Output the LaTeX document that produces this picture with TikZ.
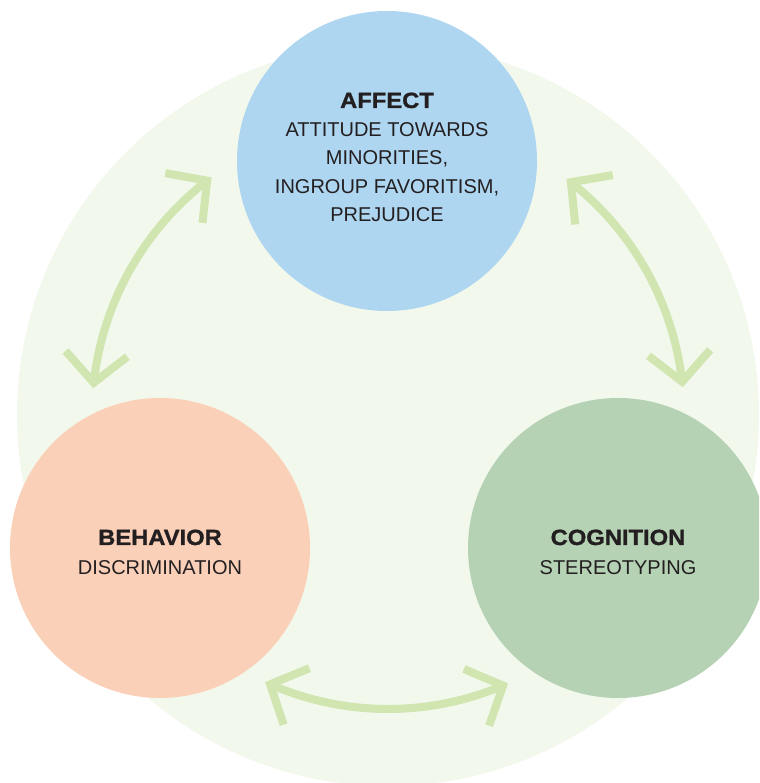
\documentclass[tikz,border=0pt]{standalone}
\usepackage{fontspec}
\setmainfont{Liberation Sans}
\newfontfamily\headfont[FakeStretch=1.08,FakeBold=1.2]{Liberation Sans Bold}
\usetikzlibrary{arrows.meta,bending,calc}
\definecolor{bgc}{HTML}{F2F8EC}
\definecolor{affc}{HTML}{AED6F1}
\definecolor{behc}{HTML}{FAD0B8}
\definecolor{cogc}{HTML}{B5D2B4}
\definecolor{arrc}{HTML}{D1E5B0}
\definecolor{txtc}{HTML}{231F20}
\tikzset{
  bubble/.style={circle,minimum size=300pt,inner sep=0pt,draw=none},
  headtxt/.style={anchor=base,inner sep=0pt,text=txtc,font=\headfont\fontsize{22}{26}\selectfont},
  bodytxt/.style={anchor=base,inner sep=0pt,text=txtc,font=\fontsize{20}{24}\selectfont},
  link/.style={draw=arrc,line width=8pt,
    {Straight Barb[length=29pt,width=62pt,line width=8pt,flex]}-{Straight Barb[length=29pt,width=62pt,line width=8pt,flex]}}
}
\begin{document}
\begin{tikzpicture}[x=1pt,y=1pt]
\useasboundingbox (0,0) rectangle (759,783);
\clip (0,0) rectangle (759,783);
\coordinate (ctr) at (388,368);
\fill[bgc] (ctr) circle (371);
\node[bubble,fill=affc] (affect) at (387,622) {};
\node[bubble,fill=behc] (behavior) at (160,235) {};
\node[bubble,fill=cogc] (cognition) at (618,235) {};
% texts
\node[headtxt] (affT) at (387,675) {AFFECT};
\node[bodytxt] (aff1) at (387,646) {ATTITUDE TOWARDS};
\node[bodytxt] (aff2) at (387,618) {MINORITIES,};
\node[bodytxt] (aff3) at (387,589) {INGROUP FAVORITISM,};
\node[bodytxt] (aff4) at (387,561) {PREJUDICE};
\node[headtxt] (behT) at (160,238) {BEHAVIOR};
\node[bodytxt] (beh1) at (160,208) {DISCRIMINATION};
\node[headtxt] (cogT) at (618,238) {COGNITION};
\node[bodytxt] (cog1) at (618,208) {STEREOTYPING};
% connectors
\coordinate (la) at ($(ctr)+(126.6:296)$);
\coordinate (lb) at ($(ctr)+(174.8:296)$);
\coordinate (ra) at ($(ctr)+(52.9:296)$);
\coordinate (rb) at ($(ctr)+(5.4:296)$);
\coordinate (ba) at ($(ctr)+(245.3:294)$);
\coordinate (bb) at ($(ctr)+(294.1:294)$);
\draw[link] (la) arc[start angle=126.6,end angle=174.8,radius=296];
\draw[link] (ra) arc[start angle=52.9,end angle=5.4,radius=296];
\draw[link] (ba) arc[start angle=245.3,end angle=294.1,radius=294];
\end{tikzpicture}
\end{document}
